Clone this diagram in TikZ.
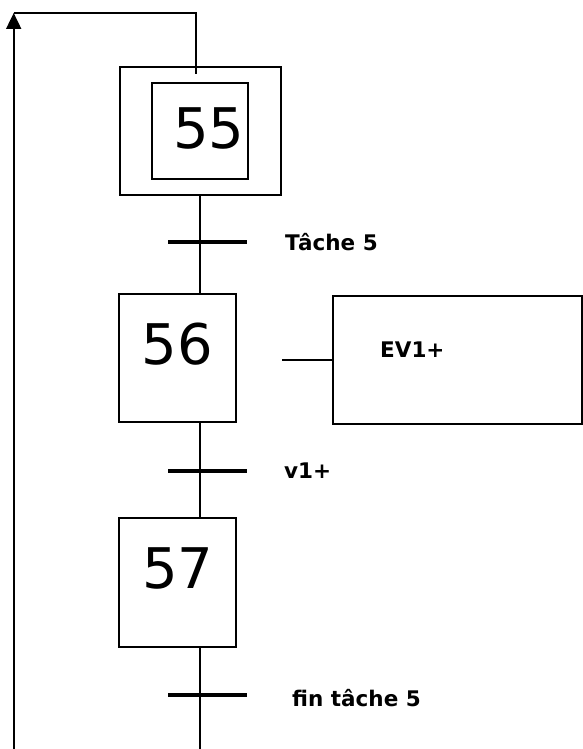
\documentclass[tikz,border=0pt]{standalone}
\usepackage{fontspec}
\setmainfont{DejaVu Sans}
\usetikzlibrary{arrows.meta}
\begin{document}
\begin{tikzpicture}[x=1pt,y=-1pt,
  box/.style={draw,line width=1.6pt,inner sep=0pt},
  link/.style={line width=1.9pt},
  bar/.style={line width=3.4pt},
  num/.style={anchor=base,inner sep=0pt,font=\fontsize{56}{56}\selectfont},
  lbl/.style={anchor=base west,inner sep=0pt,font=\fontsize{21.5}{21.5}\selectfont\bfseries}]
\useasboundingbox (0,0) rectangle (583,749);
% step 55 (initial)
\node[box,minimum width=161pt,minimum height=128pt] (s55) at (200.5,131) {};
\node[box,minimum width=96pt,minimum height=96pt] (s55i) at (200,131) {};
\node[num] (n55) at (209,148) {55};
% step 56
\node[box,minimum width=117pt,minimum height=128pt] (s56) at (177.5,358) {};
\node[num] (n56) at (177.5,364) {56};
% action
\node[box,minimum width=249pt,minimum height=128pt] (a56) at (457.5,360) {};
\node[lbl] (ev) at (380,357) {EV1+};
% step 57
\node[box,minimum width=117pt,minimum height=129pt] (s57) at (177.5,582.5) {};
\node[num] (n57) at (178,588) {57};
% transitions
\coordinate (t1) at (200,242);
\coordinate (t2) at (200,471);
\coordinate (t3) at (200,695);
\coordinate (bot) at (200,749);
\draw[link] (s55.south -| t1) -- (s56.north -| t1);
\draw[link] (s56.south -| t2) -- (s57.north -| t2);
\draw[link] (s57.south -| t3) -- (bot);
\draw[bar] (168,242) -- (247,242);
\draw[bar] (168,471) -- (247,471);
\draw[bar] (168,695) -- (247,695);
\node[lbl] (l1) at (285,250) {Tâche 5};
\node[lbl] (l2) at (284,478) {v1+};
\node[lbl] (l3) at (292,706) {fin tâche 5};
% action link
\coordinate (aL) at (282,360);
\draw[line width=1.4pt] (aL) -- (a56.west);
% loop back
\coordinate (bl) at (13.7,749);
\coordinate (tl) at (13.7,13);
\coordinate (tr) at (196,13);
\coordinate (in55) at (196,74);
\draw[link,-{Triangle[length=16pt,width=15pt]}] (bl) -- (tl);
\draw[link] (tl) -- (tr) -- (in55);
\end{tikzpicture}
\end{document}
